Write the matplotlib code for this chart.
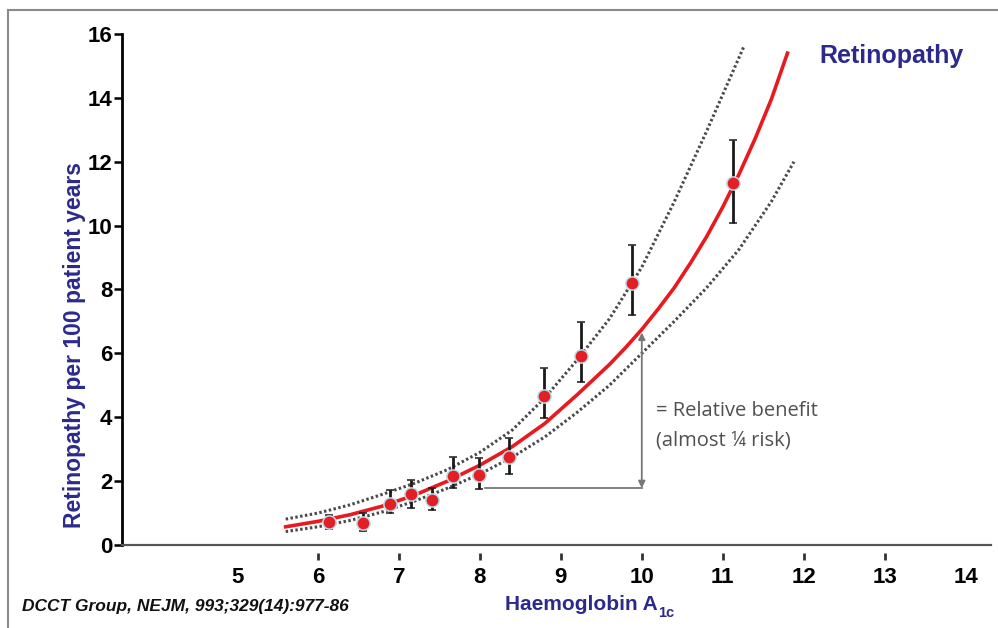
import matplotlib.pyplot as plt
from matplotlib.lines import Line2D

# measured points (HbA1c, retinopathy rate per 100 patient years)
hba1c = [6.13, 6.56, 6.89, 7.15, 7.41, 7.67, 7.99, 8.36, 8.79, 9.25, 9.88, 11.13]
rate = [0.72, 0.69, 1.27, 1.59, 1.41, 2.16, 2.19, 2.76, 4.66, 5.92, 8.20, 11.34]
rate_hi = [0.94, 1.00, 1.72, 2.03, 1.78, 2.76, 2.72, 3.35, 5.54, 6.98, 9.39, 12.68]
rate_lo = [0.50, 0.44, 1.00, 1.16, 1.10, 1.78, 1.75, 2.22, 3.98, 5.10, 7.20, 10.08]

# fitted curve and confidence band
fit_x = [5.6, 6.0, 6.4, 6.8, 7.2, 7.6, 8.0, 8.4, 8.8, 9.2, 9.6, 9.8, 10.0, 10.2, 10.4,
         10.6, 10.8, 11.0, 11.2, 11.4, 11.6, 11.8]
fit_y = [0.57, 0.74, 0.95, 1.22, 1.57, 2.0, 2.5, 3.08, 3.80, 4.70, 5.65, 6.18, 6.75, 7.38,
         8.05, 8.82, 9.65, 10.58, 11.6, 12.72, 13.95, 15.4]
upper_x = [5.6, 6.0, 6.4, 6.8, 7.2, 7.6, 8.0, 8.4, 8.8, 9.2, 9.6, 10.0, 10.4, 10.8, 11.26]
upper_y = [0.81, 1.0, 1.26, 1.59, 1.94, 2.36, 2.90, 3.60, 4.60, 5.79, 7.08, 8.70, 10.74, 12.95, 15.6]
lower_x = [5.6, 6.0, 6.4, 6.8, 7.2, 7.6, 8.0, 8.4, 8.8, 9.2, 9.6, 10.0, 10.4, 10.8, 11.2, 11.6, 11.88]
lower_y = [0.42, 0.57, 0.77, 1.04, 1.38, 1.78, 2.22, 2.75, 3.38, 4.15, 5.0, 6.0, 7.0, 8.05, 9.25, 10.75, 12.0]

# relative benefit bracket
benefit_x = [8.06, 10.0]
benefit_y = [1.78, 6.65]

xticks = [5, 6, 7, 8, 9, 10, 11, 12, 13, 14]
xmarks = [6, 7, 8, 9, 10, 11, 12, 13]
yticks = [0, 2, 4, 6, 8, 10, 12, 14, 16]

navy = '#2b2a8c'
narrow = ['Liberation Sans Narrow', 'Liberation Sans', 'DejaVu Sans']
arial = ['Liberation Sans', 'DejaVu Sans']

fig = plt.figure(figsize=(9.98, 6.28), dpi=100)
ax = fig.add_axes([0.1222, 0.1322, 0.8704, 0.8137])

ax.plot(upper_x, upper_y, color='#4a4a4a', lw=2.2, ls=(0, (0.8, 0.8)))
ax.plot(lower_x, lower_y, color='#4a4a4a', lw=2.2, ls=(0, (0.8, 0.8)))
ax.plot(fit_x, fit_y, color='#e8191f', lw=2.6)

yerr = [[r - l for r, l in zip(rate, rate_lo)], [h - r for h, r in zip(rate_hi, rate)]]
ax.errorbar(hba1c, rate, yerr=yerr, fmt='o', color='#1a1a1a', ecolor='#1a1a1a',
            elinewidth=2, capsize=3, capthick=2, markersize=9.5,
            markerfacecolor='#e31e24', markeredgecolor='#b9dde6', markeredgewidth=1.1, zorder=5)

# bracket: horizontal from the 8% level, vertical at 10% with arrow heads
ax.plot([benefit_x[0], benefit_x[1]], [benefit_y[0], benefit_y[0]], color='#777777', lw=1.3)
ax.annotate('', xy=(benefit_x[1], benefit_y[0]), xytext=(benefit_x[1], benefit_y[1]),
            arrowprops=dict(arrowstyle='<|-|>', color='#777777', lw=1.3,
                            mutation_scale=10, shrinkA=0, shrinkB=0))
ax.text(10.17, 3.73, '= Relative benefit\n(almost \u00bc risk)', fontsize=14.5,
        color='#505050', family=['Open Sans', 'DejaVu Sans'], va='center',
        linespacing=1.6)

ax.set_xlim(3.577, 14.31)
ax.set_ylim(0, 16)
ax.spines['top'].set_visible(False)
ax.spines['right'].set_visible(False)
ax.spines['left'].set_linewidth(2)
ax.spines['bottom'].set_linewidth(1.6)
ax.spines['bottom'].set_color('#555555')

ax.set_yticks(yticks)
ax.set_yticklabels([str(v) for v in yticks], fontweight='bold', fontsize=16, family=arial)
ax.tick_params(axis='y', direction='out', length=6, width=1.8, pad=1)
ax.set_xticks(xticks)
ax.set_xticklabels([str(v) for v in xticks], fontweight='bold', fontsize=16, family=narrow)
ax.tick_params(axis='x', length=0, pad=16)
ax.vlines(xmarks, -0.25, -0.47, color='#333333', lw=2, clip_on=False)

ax.text(12.2, 15.3, 'Retinopathy', fontsize=18, fontweight='bold', color=navy,
        family=arial, va='center')

fig.text(0.075, 0.45, 'Retinopathy per 100 patient years', rotation=90, fontsize=16.5,
         fontweight='bold', color=navy, family=arial, ha='center', va='center')
xlab = fig.text(0.506, 0.037, 'Haemoglobin A', fontsize=15, fontweight='bold',
                color=navy, family=narrow, ha='left', va='center')
ax.annotate('1c', xy=(1.0, 0.05), xycoords=xlab, fontsize=10.5, fontweight='bold',
            color=navy, family=narrow, ha='left', va='center', annotation_clip=False)
fig.text(0.022, 0.035, 'DCCT Group, NEJM, 993;329(14):977-86', fontsize=12.5,
         fontweight='bold', style='italic', color='#111111', family=narrow,
         ha='left', va='center')

# outer frame of the original slide
fig.add_artist(Line2D([0.008, 1.0], [0.984, 0.984], color='#8a8a8a', lw=1.5))
fig.add_artist(Line2D([0.008, 0.008], [0.0, 0.984], color='#8a8a8a', lw=1.5))

fig.savefig('out.png', dpi=100)
